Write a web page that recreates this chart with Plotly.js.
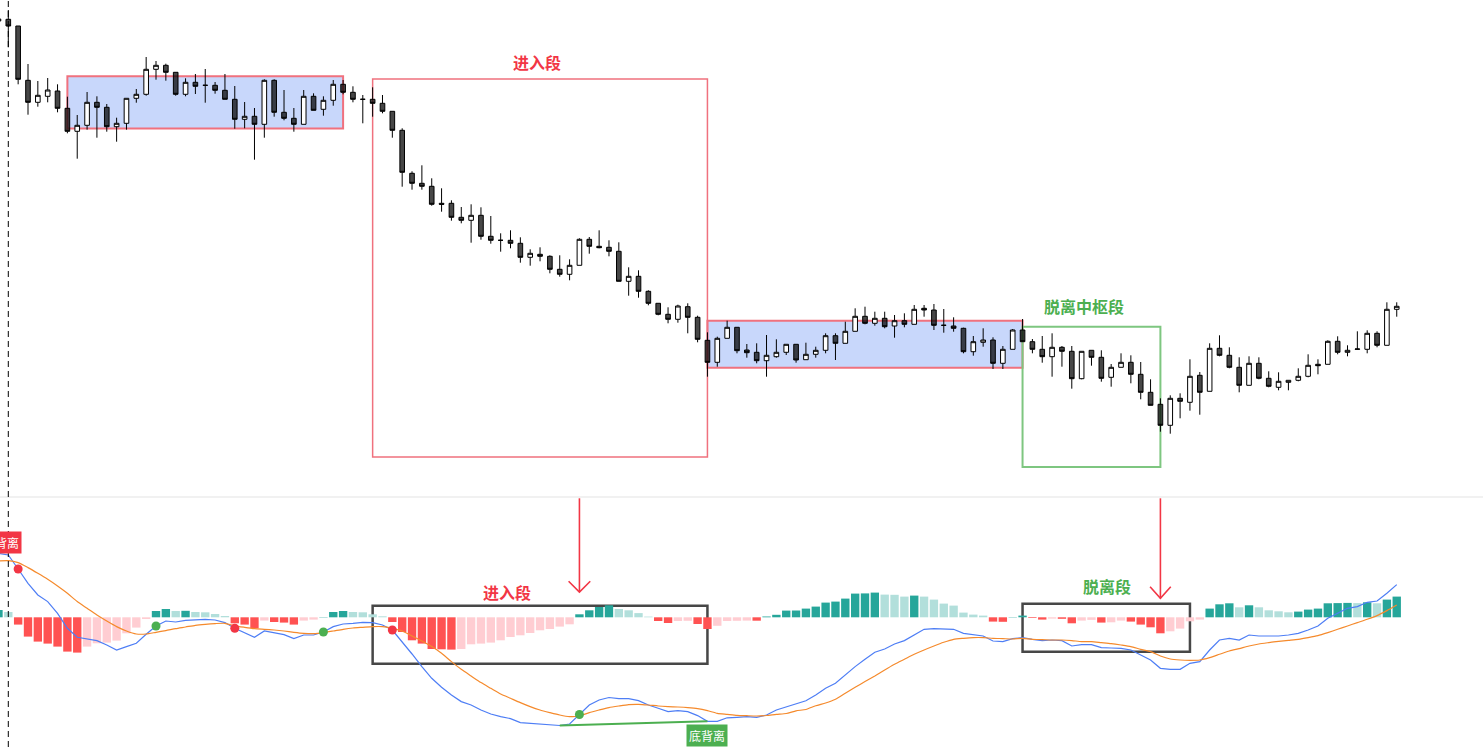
<!DOCTYPE html>
<html>
<head>
<meta charset="utf-8">
<script src="https://cdn.plot.ly/plotly-3.0.1.min.js"></script>
<style>html,body{margin:0;padding:0;background:#fff;overflow:hidden}#chart{width:1483px;height:747px}</style>
</head>
<body>
<div id="chart"></div>
<script>
// ---- K-line data (index -1 .. 141) ----
const opens = [
11.790,
11.807,11.740,11.197,10.977,11.037,11.090,10.917,10.687,10.747,10.977,
10.927,10.733,10.767,11.017,11.057,11.307,11.347,11.277,11.057,11.177,
11.147,11.147,11.097,11.007,10.807,10.837,10.757,11.197,10.877,10.817,
10.757,11.037,10.907,10.997,11.157,11.077,11.007,11.007,10.967,10.887,
10.697,10.267,10.167,10.137,9.967,9.967,9.827,9.797,9.847,9.637,
9.597,9.597,9.567,9.427,9.457,9.437,9.307,9.257,9.347,9.607,
9.537,9.527,9.487,9.187,9.237,9.087,8.967,8.857,8.807,8.933,
8.827,8.597,8.377,8.617,8.727,8.500,8.477,8.393,8.433,8.477,
8.557,8.403,8.457,8.497,8.643,8.567,8.687,8.837,8.767,8.817,
8.740,8.793,8.757,8.917,8.900,8.747,8.740,8.717,8.483,8.577,
8.600,8.367,8.507,8.700,8.583,8.507,8.433,8.527,8.487,8.213,
8.497,8.427,8.227,8.327,8.377,8.257,8.077,7.957,7.747,8.017,
7.977,8.247,8.087,8.517,8.447,8.327,8.147,8.367,8.217,8.127,
8.177,8.197,8.237,8.357,8.357,8.587,8.477,8.507,8.507,8.667,
8.547,8.907];
const highs = [
11.820,
11.900,11.740,11.360,11.190,11.220,11.157,11.033,10.850,11.080,11.037,
10.960,10.823,11.017,11.110,11.430,11.390,11.363,11.277,11.217,11.260,
11.310,11.180,11.260,11.140,10.980,10.920,11.207,11.207,11.100,10.920,
11.100,11.067,11.037,11.200,11.200,11.137,11.050,11.127,11.050,10.887,
10.717,10.287,10.347,10.217,10.117,9.997,9.930,9.957,9.927,9.840,
9.667,9.697,9.627,9.507,9.527,9.447,9.447,9.407,9.617,9.630,
9.697,9.597,9.577,9.327,9.297,9.097,8.967,8.927,8.953,8.967,
8.843,8.677,8.633,8.793,8.727,8.560,8.567,8.650,8.607,8.557,
8.557,8.573,8.533,8.667,8.667,8.783,8.917,8.933,8.883,8.883,
8.850,8.867,8.950,8.950,8.960,8.910,8.827,8.723,8.640,8.717,
8.627,8.540,8.710,8.810,8.610,8.640,8.667,8.540,8.540,8.487,
8.497,8.497,8.360,8.467,8.447,8.380,8.207,8.017,8.047,8.067,
8.407,8.280,8.567,8.647,8.527,8.427,8.437,8.427,8.287,8.277,
8.197,8.317,8.457,8.407,8.597,8.637,8.547,8.687,8.697,8.687,
8.977,8.977];
const lows = [
11.780,
11.527,11.157,10.853,10.933,10.977,10.877,10.667,10.413,10.703,10.623,
10.683,10.583,10.703,10.973,11.043,11.203,11.193,11.043,11.037,11.060,
10.973,11.063,11.007,10.713,10.717,10.403,10.623,10.833,10.797,10.683,
10.757,10.897,10.843,10.943,11.057,10.977,10.767,10.833,10.867,10.623,
10.133,10.103,10.103,9.943,9.883,9.793,9.767,9.573,9.603,9.563,
9.483,9.517,9.373,9.343,9.387,9.267,9.233,9.197,9.347,9.463,
9.517,9.437,9.187,9.043,9.023,8.947,8.847,8.767,8.773,8.667,
8.577,8.233,8.333,8.617,8.467,8.423,8.367,8.233,8.423,8.450,
8.373,8.403,8.423,8.467,8.400,8.567,8.687,8.757,8.743,8.717,
8.623,8.727,8.757,8.833,8.700,8.673,8.683,8.467,8.443,8.533,
8.310,8.310,8.507,8.583,8.467,8.373,8.233,8.333,8.113,8.207,
8.343,8.183,8.133,8.327,8.167,8.007,7.947,7.683,7.663,7.817,
7.893,7.853,8.087,8.437,8.317,8.077,8.147,8.207,8.127,8.097,
8.097,8.187,8.227,8.257,8.357,8.457,8.437,8.507,8.467,8.527,
8.547,8.833];
const closes = [
11.810,
11.740,11.207,10.977,11.047,11.100,10.917,10.687,10.747,10.977,10.927,
10.733,10.767,11.017,11.057,11.307,11.347,11.277,11.057,11.177,11.137,
11.147,11.097,11.007,10.807,10.837,10.757,11.197,10.877,10.817,10.757,
11.037,10.897,10.997,11.157,11.077,11.007,11.007,10.967,10.887,10.697,
10.277,10.167,10.137,9.957,9.957,9.827,9.797,9.847,9.637,9.597,
9.597,9.567,9.427,9.467,9.437,9.307,9.257,9.347,9.607,9.537,
9.523,9.487,9.187,9.237,9.087,8.967,8.857,8.807,8.940,8.827,
8.607,8.377,8.617,8.727,8.493,8.473,8.393,8.447,8.477,8.557,
8.400,8.457,8.497,8.643,8.567,8.687,8.837,8.767,8.817,8.733,
8.793,8.757,8.907,8.900,8.747,8.747,8.717,8.483,8.583,8.600,
8.367,8.507,8.700,8.583,8.507,8.433,8.527,8.487,8.213,8.487,
8.427,8.217,8.327,8.377,8.257,8.077,7.947,7.747,8.017,7.987,
8.237,8.077,8.517,8.447,8.327,8.147,8.367,8.217,8.137,8.187,
8.197,8.237,8.347,8.343,8.587,8.477,8.497,8.510,8.667,8.547,
8.907,8.937];

// ---- MACD data (index -1 .. 141) ----
const macdHist = [
0.073,
0.053,-0.073,-0.193,-0.243,-0.263,-0.293,-0.343,-0.353,-0.293,-0.260,
-0.253,-0.233,-0.160,-0.103,-0.017,0.063,0.083,0.063,0.065,0.053,
0.050,0.033,0.013,-0.060,-0.073,-0.110,-0.033,-0.047,-0.053,-0.073,
-0.033,-0.023,0.003,0.053,0.063,0.053,0.050,0.030,0.010,-0.047,
-0.147,-0.230,-0.263,-0.317,-0.320,-0.323,-0.317,-0.270,-0.263,-0.253,
-0.230,-0.197,-0.180,-0.157,-0.130,-0.117,-0.093,-0.070,0.030,0.070,
0.103,0.120,0.083,0.070,0.042,0.007,-0.037,-0.057,-0.037,-0.035,
-0.067,-0.117,-0.085,-0.037,-0.035,-0.033,-0.034,0.008,0.025,0.067,
0.068,0.087,0.107,0.147,0.157,0.187,0.237,0.239,0.247,0.227,
0.225,0.207,0.217,0.207,0.177,0.137,0.117,0.047,0.027,0.017,
-0.043,-0.045,0.003,0.017,-0.007,-0.023,-0.013,-0.015,-0.060,-0.033,
-0.026,-0.053,-0.050,-0.033,-0.043,-0.073,-0.100,-0.160,-0.140,-0.113,
-0.040,-0.023,0.087,0.130,0.140,0.100,0.120,0.100,0.070,0.060,
0.050,0.057,0.077,0.087,0.140,0.142,0.144,0.142,0.150,0.140,
0.177,0.207];
const dif = [
0.640,
0.623,0.483,0.340,0.223,0.157,0.040,-0.110,-0.200,-0.217,-0.233,
-0.277,-0.327,-0.293,-0.260,-0.170,-0.087,-0.037,-0.047,-0.030,-0.023,
-0.020,-0.027,-0.053,-0.110,-0.153,-0.200,-0.137,-0.153,-0.173,-0.213,
-0.177,-0.177,-0.147,-0.093,-0.067,-0.060,-0.050,-0.053,-0.077,-0.127,
-0.243,-0.367,-0.493,-0.610,-0.700,-0.777,-0.843,-0.877,-0.927,-0.967,
-0.993,-1.013,-1.053,-1.060,-1.067,-1.077,-1.082,-1.067,-0.972,-0.877,
-0.827,-0.802,-0.813,-0.813,-0.833,-0.877,-0.910,-0.943,-0.933,-0.943,
-0.983,-1.040,-1.040,-1.005,-1.000,-0.994,-1.000,-0.977,-0.927,-0.895,
-0.865,-0.835,-0.777,-0.710,-0.660,-0.577,-0.493,-0.420,-0.350,-0.317,
-0.267,-0.233,-0.177,-0.120,-0.113,-0.113,-0.120,-0.160,-0.177,-0.187,
-0.237,-0.243,-0.213,-0.203,-0.220,-0.233,-0.227,-0.233,-0.287,-0.273,
-0.273,-0.303,-0.307,-0.310,-0.327,-0.377,-0.427,-0.510,-0.520,-0.520,
-0.460,-0.443,-0.327,-0.227,-0.210,-0.227,-0.177,-0.187,-0.187,-0.187,
-0.177,-0.160,-0.127,-0.087,-0.010,0.040,0.090,0.107,0.150,0.163,
0.240,0.327];
const dea = [
0.563,
0.567,0.547,0.497,0.440,0.380,0.313,0.240,0.157,0.090,0.023,
-0.037,-0.093,-0.137,-0.167,-0.167,-0.150,-0.133,-0.113,-0.097,-0.080,
-0.070,-0.063,-0.060,-0.085,-0.100,-0.113,-0.120,-0.127,-0.137,-0.150,
-0.160,-0.163,-0.153,-0.137,-0.120,-0.107,-0.100,-0.093,-0.093,-0.110,
-0.137,-0.187,-0.237,-0.293,-0.360,-0.443,-0.520,-0.587,-0.653,-0.710,
-0.767,-0.810,-0.853,-0.893,-0.927,-0.953,-0.977,-0.993,-0.987,-0.953,
-0.927,-0.903,-0.887,-0.873,-0.870,-0.877,-0.887,-0.893,-0.897,-0.903,
-0.913,-0.933,-0.960,-0.970,-0.980,-0.984,-0.987,-0.982,-0.970,-0.962,
-0.935,-0.922,-0.884,-0.857,-0.820,-0.760,-0.700,-0.643,-0.587,-0.527,
-0.470,-0.420,-0.370,-0.327,-0.287,-0.250,-0.220,-0.210,-0.203,-0.203,
-0.210,-0.213,-0.217,-0.210,-0.220,-0.223,-0.227,-0.227,-0.233,-0.243,
-0.243,-0.253,-0.263,-0.277,-0.293,-0.320,-0.343,-0.387,-0.417,-0.427,
-0.430,-0.427,-0.403,-0.370,-0.337,-0.313,-0.287,-0.267,-0.253,-0.240,
-0.230,-0.220,-0.203,-0.183,-0.153,-0.120,-0.087,-0.053,-0.020,0.017,
0.067,0.123];

// cross points (bar index) and divergence pair
const deathCross = [1, 23, 39];
const goldenCross = [15, 32, 58];
const divergencePair = [56, 71];

// ---- build ----
const FIRST = -1;
const xs = opens.map((_, k) => k + FIRST);
const at = (arr, i) => arr[i - FIRST];

const histColors = macdHist.map((v, k) => {
  const prev = k > 0 ? macdHist[k - 1] : null;
  if (v >= 0) return (prev === null || v >= prev) ? '#26a69a' : '#b2dfdb';
  return (prev === null || v <= prev) ? '#ff5252' : '#ffcdd2';
});

const RED = '#f23645', GREEN = '#4caf50';
const CJK = '"Noto Sans CJK SC", "Noto Sans", sans-serif';

const traces = [
  {
    type: 'candlestick', x: xs, open: opens, high: highs, low: lows, close: closes,
    xaxis: 'x', yaxis: 'y', whiskerwidth: 0, hoverinfo: 'skip',
    increasing: {line: {color: '#000000', width: 1}, fillcolor: '#ffffff'},
    decreasing: {line: {color: '#000000', width: 1}, fillcolor: 'rgba(0,0,0,0.72)'}
  },
  {
    type: 'bar', x: xs, y: macdHist, xaxis: 'x', yaxis: 'y2',
    marker: {color: histColors, line: {width: 0}}, hoverinfo: 'skip'
  },
  {
    type: 'scatter', mode: 'lines', x: xs, y: dif, xaxis: 'x', yaxis: 'y2',
    line: {color: '#4e7ef5', width: 1.2}, hoverinfo: 'skip'
  },
  {
    type: 'scatter', mode: 'lines', x: xs, y: dea, xaxis: 'x', yaxis: 'y2',
    line: {color: '#f58a2c', width: 1.2, shape: 'spline', smoothing: 0.6}, hoverinfo: 'skip'
  },
  {
    type: 'scatter', mode: 'lines', x: divergencePair, y: divergencePair.map(i => at(dif, i)),
    xaxis: 'x', yaxis: 'y2', line: {color: GREEN, width: 2}, hoverinfo: 'skip'
  },
  {
    type: 'scatter', mode: 'markers', x: deathCross, y: deathCross.map(i => at(dif, i)),
    xaxis: 'x', yaxis: 'y2', marker: {color: RED, size: 9}, hoverinfo: 'skip'
  },
  {
    type: 'scatter', mode: 'markers', x: goldenCross, y: goldenCross.map(i => at(dif, i)),
    xaxis: 'x', yaxis: 'y2', marker: {color: GREEN, size: 9}, hoverinfo: 'skip'
  }
];

const split = 250 / 747;
const rect = (x0, x1, y0, y1, yref, line, fill) => ({
  type: 'rect', xref: 'x', yref: yref, x0, x1, y0, y1, layer: 'below',
  line: line, fillcolor: fill || 'rgba(0,0,0,0)'
});
const arrow = (xi, yTip, yArm, dx) => ([
  {type: 'line', xref: 'x', yref: 'paper', x0: xi, x1: xi, y0: split, y1: split, line: {width: 0}},
  {type: 'line', xref: 'x', yref: 'y2', x0: xi, x1: xi, y0: 1.19, y1: yTip, line: {color: RED, width: 1.6}},
  {type: 'path', xref: 'x', yref: 'y2', path: `M ${xi - dx},${yArm} L ${xi},${yTip} L ${xi + dx},${yArm}`, line: {color: RED, width: 1.6}}
]);

const shapes = [
  // panel separator
  {type: 'line', xref: 'paper', yref: 'paper', x0: 0, x1: 1, y0: split, y1: split, line: {color: '#e3e3e3', width: 1}},
  // dashed marker line
  {type: 'line', xref: 'x', yref: 'paper', x0: 0, x1: 0, y0: 0, y1: 1, line: {color: '#000', width: 1, dash: '6px,4px'}},
  // pivot zones
  rect(6, 34, 10.715, 11.238, 'y', {color: '#f0717e', width: 2}, '#c8d7fb'),
  rect(71, 103, 8.323, 8.793, 'y', {color: '#f0717e', width: 2}, '#c8d7fb'),
  // segments on price
  rect(37, 71, 7.43, 11.21, 'y', {color: '#f0717e', width: 1.5}),
  rect(103, 117, 7.33, 8.733, 'y', {color: '#7ec680', width: 2}),
  // segments on MACD
  rect(37, 71, -0.464, 0.116, 'y2', {color: '#474747', width: 2.5}),
  rect(103, 120, -0.344, 0.136, 'y2', {color: '#474747', width: 2.5}),
  ...arrow(58, 0.252, 0.36, 1.1),
  ...arrow(117, 0.19, 0.305, 1.05)
];

const label = (text, x, y, yref, color) => ({
  xref: 'x', yref: yref, x, y, text: '<b>' + text + '</b>', showarrow: false,
  font: {family: CJK, size: 16, color: color}
});

const annotations = [
  label('进入段', 53.7, 11.38, 'y', RED),
  label('脱离中枢段', 109.2, 8.943, 'y', GREEN),
  label('进入段', 50.6, 0.256, 'y2', RED),
  label('脱离段', 111.6, 0.313, 'y2', GREEN),
  {xref: 'x', yref: 'y2', x: 1.36, y: 0.748, xanchor: 'right', text: '顶背离', showarrow: false,
   bgcolor: RED, borderpad: 2, font: {family: CJK, size: 12, color: '#ffffff'}},
  {xref: 'x', yref: 'y2', x: 71.0, y: -1.18, text: '底背离', showarrow: false,
   bgcolor: GREEN, borderpad: 2, font: {family: CJK, size: 12, color: '#ffffff'}}
];

const hidden = {showgrid: false, zeroline: false, showticklabels: false, showline: false, ticks: '', fixedrange: true};

const layout = {
  width: 1483, height: 747,
  margin: {l: 0, r: 0, t: 0, b: 0, pad: 0},
  paper_bgcolor: '#ffffff', plot_bgcolor: '#ffffff',
  showlegend: false, hovermode: false,
  bargap: 0.15, boxgap: 0.33,
  xaxis: Object.assign({range: [-0.843, 149.76], rangeslider: {visible: false}, anchor: 'y2'}, hidden),
  yaxis: Object.assign({domain: [split, 1], range: [7.03, 12.0], anchor: 'x'}, hidden),
  yaxis2: Object.assign({domain: [0, split], range: [-1.297, 1.203], anchor: 'x'}, hidden),
  shapes: shapes,
  annotations: annotations
};

Plotly.newPlot('chart', traces, layout, {staticPlot: true, displayModeBar: false});
</script>
</body>
</html>
